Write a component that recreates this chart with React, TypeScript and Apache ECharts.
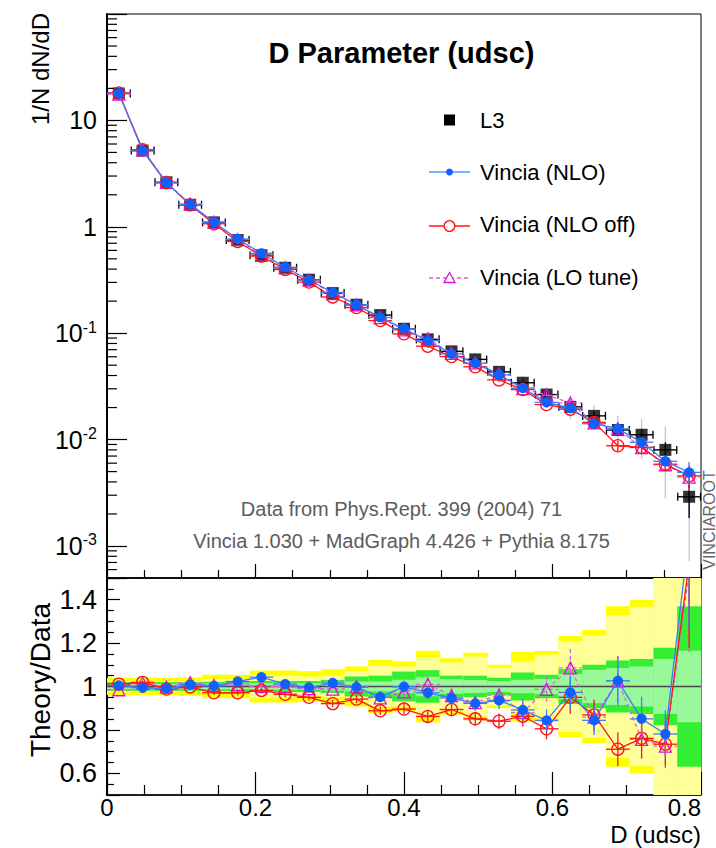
import React, { useEffect, useRef } from "react";
import * as echarts from "echarts";

// ---------------- data ----------------
const binCenters = [0.016, 0.048, 0.08, 0.112, 0.144, 0.176, 0.208, 0.24, 0.272, 0.304, 0.336, 0.368, 0.4, 0.432, 0.464, 0.496, 0.528, 0.56, 0.592, 0.624, 0.656, 0.688, 0.72, 0.752, 0.784];
const binHalfWidth = 0.016;

const l3Values = [17.9, 5.2, 2.62, 1.61, 1.1, 0.75, 0.54, 0.412, 0.318, 0.238, 0.185, 0.148, 0.11, 0.0875, 0.0675, 0.0567, 0.0433, 0.0342, 0.0265, 0.0203, 0.0167, 0.0123, 0.0111, 0.008, 0.0029];

// relative data uncertainty bands (half widths)
const bandYellowOuter = [0.04, 0.04, 0.04, 0.042, 0.054, 0.054, 0.074, 0.074, 0.07, 0.08, 0.092, 0.123, 0.115, 0.165, 0.13, 0.155, 0.1, 0.16, 0.164, 0.233, 0.26, 0.37, 0.4, 0.65, 0.75];
const bandYellowInner = [0.025, 0.025, 0.025, 0.025, 0.034, 0.034, 0.054, 0.05, 0.046, 0.05, 0.069, 0.095, 0.092, 0.135, 0.112, 0.138, 0.088, 0.115, 0.146, 0.21, 0.235, 0.33, 0.367, 0.6, 0.7];
const bandGreenOuter = [0.02, 0.02, 0.02, 0.02, 0.022, 0.022, 0.025, 0.025, 0.025, 0.03, 0.046, 0.05, 0.069, 0.075, 0.05, 0.05, 0.04, 0.064, 0.054, 0.08, 0.1, 0.12, 0.127, 0.178, 0.37];
const bandGreenInner = [0.012, 0.012, 0.012, 0.012, 0.013, 0.013, 0.015, 0.015, 0.015, 0.018, 0.023, 0.023, 0.031, 0.045, 0.034, 0.03, 0.025, 0.031, 0.035, 0.058, 0.077, 0.085, 0.092, 0.127, 0.165];

const nloValues = [17.99, 5.17, 2.594, 1.624, 1.103, 0.767, 0.563, 0.4165, 0.3164, 0.2418, 0.1844, 0.1407, 0.1099, 0.085, 0.0639, 0.0523, 0.0405, 0.0305, 0.02237, 0.01975, 0.01409, 0.01262, 0.00945, 0.00625, 0.00492];
const nloOffValues = [18.1, 5.3, 2.589, 1.607, 1.068, 0.728, 0.53, 0.397, 0.302, 0.219, 0.1743, 0.1314, 0.0986, 0.0754, 0.0603, 0.0483, 0.0364, 0.0295, 0.02133, 0.01929, 0.01451, 0.00875, 0.00845, 0.00587, 0.00456];
const loTuneValues = [17.63, 5.283, 2.615, 1.639, 1.106, 0.756, 0.54, 0.412, 0.3148, 0.2351, 0.185, 0.1403, 0.1073, 0.0884, 0.0647, 0.0525, 0.0416, 0.0301, 0.0262, 0.0221, 0.01435, 0.01262, 0.00839, 0.0058, 0.00444];

const nloRatio = [1.005, 0.994, 0.99, 1.009, 1.003, 1.023, 1.043, 1.011, 0.995, 1.016, 0.997, 0.951, 0.999, 0.971, 0.947, 0.922, 0.936, 0.892, 0.844, 0.973, 0.844, 1.026, 0.851, 0.781, 1.7];
const nloOffRatio = [1.011, 1.019, 0.988, 0.998, 0.971, 0.971, 0.982, 0.964, 0.95, 0.921, 0.942, 0.888, 0.896, 0.862, 0.894, 0.851, 0.84, 0.863, 0.805, 0.95, 0.869, 0.711, 0.761, 0.734, 1.57];
const loTuneRatio = [0.985, 1.016, 0.998, 1.018, 1.005, 1.008, 1.0, 1.0, 0.99, 0.988, 1.0, 0.948, 0.975, 1.01, 0.958, 0.926, 0.96, 0.88, 0.987, 1.086, 0.859, 1.026, 0.756, 0.725, 1.53];
const mcRelErr = [0.008, 0.008, 0.008, 0.01, 0.01, 0.012, 0.012, 0.014, 0.015, 0.018, 0.02, 0.022, 0.028, 0.03, 0.033, 0.036, 0.042, 0.055, 0.06, 0.08, 0.08, 0.11, 0.12, 0.14, 0.25];

const legendLabels = ["L3", "Vincia (NLO)", "Vincia (NLO off)", "Vincia (LO tune)"];
const titleText = "D Parameter (udsc)";
const noteLines = ["Data from Phys.Rept. 399 (2004) 71", "Vincia 1.030 + MadGraph 4.426 + Pythia 8.175"];

// ---------------- style ----------------
const FONT = "'Liberation Sans', Arial, Helvetica, sans-serif";
const BLUE = "#1060ff";
const BLUE_LINE = "#3c7cff";
const RED = "#ff1414";
const MAG = "#dd10dd";
const MAG_LINE = "#e060e0";

const GRID_TOP = { left: 107, top: 14, width: 594, height: 564 };
const GRID_BOT = { left: 107, top: 578, width: 594, height: 217 };

type Opts = { caps?: boolean; dash?: number[]; width?: number; horizontal?: boolean; capColor?: string; z?: number };

function errSeries(xIdx: number, yIdx: number, points: number[][], color: string, opts: Opts) {
  return {
    type: "custom",
    xAxisIndex: xIdx,
    yAxisIndex: yIdx,
    silent: true,
    z: opts.z ?? 2,
    renderItem: (params: any, api: any) => {
      const cs = params.coordSys;
      const top = cs.y;
      const bot = cs.y + cs.height;
      const x = api.value(0);
      const y = api.value(1);
      const lo = api.value(2);
      const hi = api.value(3);
      const style: any = { stroke: color, lineWidth: opts.width ?? 1.3 };
      if (opts.dash) style.lineDash = opts.dash;
      const ch: any[] = [];
      const pl = api.coord([x - binHalfWidth, y]);
      const pr = api.coord([x + binHalfWidth, y]);
      if (opts.horizontal !== false && pl[1] >= top - 0.5 && pl[1] <= bot + 0.5) {
        ch.push({ type: "line", shape: { x1: pl[0], y1: pl[1], x2: pr[0], y2: pr[1] }, style });
        if (opts.caps) {
          const cst = { stroke: opts.capColor ?? color, lineWidth: 1.3 };
          ch.push({ type: "line", shape: { x1: pl[0] + 0.5, y1: pl[1] - 4, x2: pl[0] + 0.5, y2: pl[1] + 4 }, style: cst });
          ch.push({ type: "line", shape: { x1: pr[0] - 0.5, y1: pr[1] - 4, x2: pr[0] - 0.5, y2: pr[1] + 4 }, style: cst });
        }
      }
      const plo = api.coord([x, lo]);
      const phi = api.coord([x, hi]);
      const y1 = Math.max(top, Math.min(bot, phi[1]));
      const y2 = Math.max(top, Math.min(bot, plo[1]));
      if (y2 - y1 > 0.5) ch.push({ type: "line", shape: { x1: plo[0], y1, x2: plo[0], y2 }, style });
      return { type: "group", children: ch };
    },
    data: points,
  };
}

function lineSeries(xIdx: number, yIdx: number, pts: number[][], lineColor: string, symbol: string, size: number, fill: string, stroke: string, dash?: number[], z = 3) {
  return {
    type: "line",
    xAxisIndex: xIdx,
    yAxisIndex: yIdx,
    data: pts,
    symbol,
    symbolSize: size,
    showAllSymbol: true,
    silent: true,
    z,
    lineStyle: { color: lineColor, width: 1.3, type: dash ?? "solid" },
    itemStyle: { color: fill, borderColor: stroke, borderWidth: 1.3 },
    emphasis: { disabled: true },
  };
}

function buildOption(): any {
  const l3Pts = binCenters.map((x, i) => [x, l3Values[i]]);
  const l3ErrInner = binCenters.map((x, i) => [x, l3Values[i], l3Values[i] * (1 - bandGreenOuter[i]), l3Values[i] * (1 + bandGreenOuter[i])]);
  const l3ErrOuter = binCenters.map((x, i) => [x, l3Values[i], l3Values[i] * (1 - bandYellowOuter[i]), l3Values[i] * (1 + bandYellowOuter[i])]);
  const mk = (vals: number[]) => binCenters.map((x, i) => [x, vals[i], vals[i] * (1 - mcRelErr[i]), vals[i] * (1 + mcRelErr[i])]);
  const pts = (vals: number[]) => binCenters.map((x, i) => [x, vals[i]]);

  // log minor ticks
  const minorLog: number[][] = [];
  for (let e = -4; e <= 1; e++) {
    for (let m = 2; m <= 9; m++) {
      const v = m * Math.pow(10, e);
      if (v > 5e-4 && v < 100) minorLog.push([0, v]);
    }
  }

  const bandData = binCenters.map((x, i) => [x, bandYellowOuter[i], bandYellowInner[i], bandGreenOuter[i], bandGreenInner[i]]);
  const bandColors = ["#ffff00", "#ffff99", "#33ee33", "#99f899"];

  const series: any[] = [
    // ---- top panel ----
    {
      type: "custom",
      xAxisIndex: 0,
      yAxisIndex: 0,
      silent: true,
      z: 1,
      renderItem: (params: any, api: any) => {
        const cs = params.coordSys;
        const p = api.coord([0, api.value(1)]);
        return { type: "line", shape: { x1: cs.x, y1: p[1], x2: cs.x + 10, y2: p[1] }, style: { stroke: "#000", lineWidth: 1.2 } };
      },
      data: minorLog,
    },
    errSeries(0, 0, l3ErrOuter, "#c4c4c4", { horizontal: false, width: 1.3 }),
    errSeries(0, 0, l3ErrInner, "#000", { caps: true, width: 1.4 }),
    {
      type: "scatter",
      xAxisIndex: 0,
      yAxisIndex: 0,
      data: l3Pts,
      symbol: "rect",
      symbolSize: 12,
      itemStyle: { color: "#000" },
      silent: true,
      z: 2,
    },
    errSeries(0, 0, mk(loTuneValues), MAG_LINE, { dash: [4, 3], z: 3 }),
    lineSeries(0, 0, pts(loTuneValues), MAG_LINE, "triangle", 12, "rgba(0,0,0,0)", MAG, [4, 3], 3),
    errSeries(0, 0, mk(nloOffValues), RED, { z: 4 }),
    lineSeries(0, 0, pts(nloOffValues), RED, "circle", 12, "rgba(0,0,0,0)", RED, undefined, 4),
    errSeries(0, 0, mk(nloValues), BLUE_LINE, { z: 5 }),
    lineSeries(0, 0, pts(nloValues), BLUE_LINE, "circle", 9, BLUE, BLUE, undefined, 5),

    // ---- ratio panel ----
    {
      type: "custom",
      xAxisIndex: 1,
      yAxisIndex: 1,
      silent: true,
      z: 1,
      renderItem: (params: any, api: any) => {
        const cs = params.coordSys;
        const x = api.value(0);
        const ch: any[] = [];
        for (let k = 0; k < 4; k++) {
          const w = api.value(k + 1);
          const p1 = api.coord([x - binHalfWidth, 1 + w]);
          const p2 = api.coord([x + binHalfWidth, 1 - w]);
          const r = echarts.graphic.clipRectByRect(
            { x: p1[0], y: p1[1], width: p2[0] - p1[0] + 0.6, height: p2[1] - p1[1] },
            { x: cs.x, y: cs.y, width: cs.width, height: cs.height }
          );
          if (r) ch.push({ type: "rect", shape: r, style: { fill: bandColors[k] } });
        }
        return { type: "group", children: ch };
      },
      data: bandData,
    },
    {
      type: "line",
      xAxisIndex: 1,
      yAxisIndex: 1,
      data: [[0, 1], [0.8, 1]],
      symbol: "none",
      silent: true,
      z: 2,
      lineStyle: { color: "#4a4a4a", width: 1.5 },
    },
    errSeries(1, 1, binCenters.map((x, i) => [x, loTuneRatio[i], loTuneRatio[i] * (1 - mcRelErr[i]), loTuneRatio[i] * (1 + mcRelErr[i])]), MAG_LINE, { dash: [4, 3], z: 3 }),
    lineSeries(1, 1, pts(loTuneRatio), MAG_LINE, "triangle", 12, "rgba(0,0,0,0)", MAG, [4, 3], 3),
    errSeries(1, 1, binCenters.map((x, i) => [x, nloOffRatio[i], nloOffRatio[i] * (1 - mcRelErr[i]), nloOffRatio[i] * (1 + mcRelErr[i])]), RED, { z: 4 }),
    lineSeries(1, 1, pts(nloOffRatio), RED, "circle", 12, "rgba(0,0,0,0)", RED, undefined, 4),
    errSeries(1, 1, binCenters.map((x, i) => [x, nloRatio[i], nloRatio[i] * (1 - mcRelErr[i]), nloRatio[i] * (1 + mcRelErr[i])]), BLUE_LINE, { z: 5 }),
    lineSeries(1, 1, pts(nloRatio), BLUE_LINE, "circle", 9, BLUE, BLUE, undefined, 5),
  ];

  const rowY = [120, 172, 224, 277];
  const graphic: any[] = [
    {
      type: "text",
      x: 401.5,
      y: 53,
      style: { text: titleText, font: `bold 29px ${FONT}`, fill: "#000", align: "center", verticalAlign: "middle" },
      z: 100,
    },
    // legend
    { type: "rect", shape: { x: 444, y: rowY[0] - 5.5, width: 11, height: 11 }, style: { fill: "#000" }, z: 100 },
    { type: "line", shape: { x1: 429, y1: rowY[1], x2: 470, y2: rowY[1] }, style: { stroke: "#5a96ff", lineWidth: 1.5 }, z: 100 },
    { type: "circle", shape: { cx: 449.5, cy: rowY[1], r: 3.5 }, style: { fill: BLUE }, z: 101 },
    { type: "line", shape: { x1: 429, y1: rowY[2] + 2, x2: 470, y2: rowY[2] + 2 }, style: { stroke: RED, lineWidth: 1.3 }, z: 100 },
    { type: "circle", shape: { cx: 449.5, cy: rowY[2] + 2, r: 5.3 }, style: { fill: "#fff", stroke: RED, lineWidth: 1.3 }, z: 101 },
    { type: "line", shape: { x1: 429, y1: rowY[3] + 1, x2: 470, y2: rowY[3] + 1 }, style: { stroke: MAG_LINE, lineWidth: 1.3, lineDash: [4, 3] }, z: 100 },
    { type: "polygon", shape: { points: [[449.5, rowY[3] - 4.5], [444, rowY[3] + 5.5], [455, rowY[3] + 5.5]] }, style: { fill: "#fff", stroke: MAG, lineWidth: 1.3 }, z: 101 },
    ...legendLabels.map((t, i) => ({
      type: "text",
      x: 480,
      y: rowY[i],
      style: { text: t, font: `22px ${FONT}`, fill: "#000", align: "left", verticalAlign: "middle" },
      z: 100,
    })),
    ...noteLines.map((t, i) => ({
      type: "text",
      x: 401.5,
      y: 509 + i * 32,
      style: { text: t, font: `20px ${FONT}`, fill: "#5c5c5c", align: "center", verticalAlign: "middle" },
      z: 100,
    })),
    {
      type: "text",
      x: 709,
      y: 520,
      rotation: Math.PI / 2,
      style: { text: "VINCIAROOT", font: `16px ${FONT}`, fill: "#666", align: "center", verticalAlign: "middle" },
      z: 100,
    },
    {
      type: "text",
      x: 40,
      y: 13,
      rotation: Math.PI / 2,
      style: { text: "1/N dN/dD", font: `24px ${FONT}`, fill: "#000", align: "right", verticalAlign: "middle" },
      z: 100,
    },
    {
      type: "text",
      x: 40,
      y: 603,
      rotation: Math.PI / 2,
      style: { text: "Theory/Data", font: `28px ${FONT}`, fill: "#000", align: "right", verticalAlign: "middle" },
      z: 100,
    },
    {
      type: "text",
      x: 701,
      y: 834,
      style: { text: "D (udsc)", font: `24px ${FONT}`, fill: "#000", align: "right", verticalAlign: "middle" },
      z: 100,
    },
  ];

  const logLabel = (val: number) => {
    const l = Math.log10(val);
    const e = Math.round(l);
    if (Math.abs(l - e) > 1e-6 || e >= 2) return "";
    if (e === 1) return "{m|10}";
    if (e === 0) return "{m|1}";
    return `{m|10}{s|${e}}`;
  };

  return {
    animation: false,
    backgroundColor: "#fff",
    textStyle: { fontFamily: FONT },
    grid: [
      { ...GRID_TOP, show: true, borderColor: "#000", borderWidth: 1, backgroundColor: "transparent" },
      { ...GRID_BOT, show: true, borderColor: "#000", borderWidth: 1, backgroundColor: "transparent" },
    ],
    xAxis: [
      {
        type: "value",
        gridIndex: 0,
        min: 0,
        max: 0.8,
        interval: 0.2,
        axisLine: { show: true, lineStyle: { color: "#000", width: 1.5 } },
        axisTick: { show: true, inside: true, length: 14, lineStyle: { color: "#000", width: 1.2 } },
        minorTick: { show: true, splitNumber: 4, length: 8, lineStyle: { color: "#000", width: 1.2 } },
        axisLabel: { show: false },
        splitLine: { show: false },
      },
      {
        type: "value",
        gridIndex: 1,
        min: 0,
        max: 0.8,
        interval: 0.2,
        axisLine: { show: true, lineStyle: { color: "#000", width: 1.5 } },
        axisTick: { show: true, inside: true, length: 23, lineStyle: { color: "#000", width: 1.2 } },
        minorTick: { show: true, splitNumber: 4, length: 10, lineStyle: { color: "#000", width: 1.2 } },
        axisLabel: { show: true, fontSize: 24, color: "#000", margin: 0, fontFamily: FONT, alignMaxLabel: "right" },
        splitLine: { show: false },
      },
    ],
    yAxis: [
      {
        type: "log",
        logBase: 10,
        gridIndex: 0,
        min: 5e-4,
        max: 100,
        axisLine: { show: true, lineStyle: { color: "#000", width: 2 } },
        axisTick: { show: true, inside: true, length: 20, lineStyle: { color: "#000", width: 1.2 } },
        axisLabel: {
          show: true,
          margin: 10,
          formatter: logLabel,
          rich: {
            m: { fontSize: 25, color: "#000", fontFamily: FONT },
            s: { fontSize: 16, color: "#000", fontFamily: FONT, verticalAlign: "top", padding: [0, 0, 12, 0] },
          },
        },
        splitLine: { show: false },
      },
      {
        type: "value",
        gridIndex: 1,
        min: 0.5,
        max: 1.5,
        splitNumber: 5,
        axisLine: { show: true, lineStyle: { color: "#000", width: 2 } },
        axisTick: { show: true, inside: true, length: 13, lineStyle: { color: "#000", width: 1.2 } },
        minorTick: { show: true, splitNumber: 4, length: 7, lineStyle: { color: "#000", width: 1.2 } },
        axisLabel: { show: true, fontSize: 27, color: "#000", margin: 10, fontFamily: FONT, showMinLabel: false, showMaxLabel: false },
        splitLine: { show: false },
      },
    ],
    series,
    graphic,
  };
}

export default function App() {
  const ref = useRef<HTMLDivElement>(null);
  useEffect(() => {
    document.body.style.margin = "0";
    const chart = echarts.init(ref.current as HTMLDivElement, null, { renderer: "svg" });
    chart.setOption(buildOption());
    return () => chart.dispose();
  }, []);
  return <div ref={ref} style={{ position: "absolute", left: 0, top: 0, width: 716, height: 848, background: "#fff" }} />;
}
